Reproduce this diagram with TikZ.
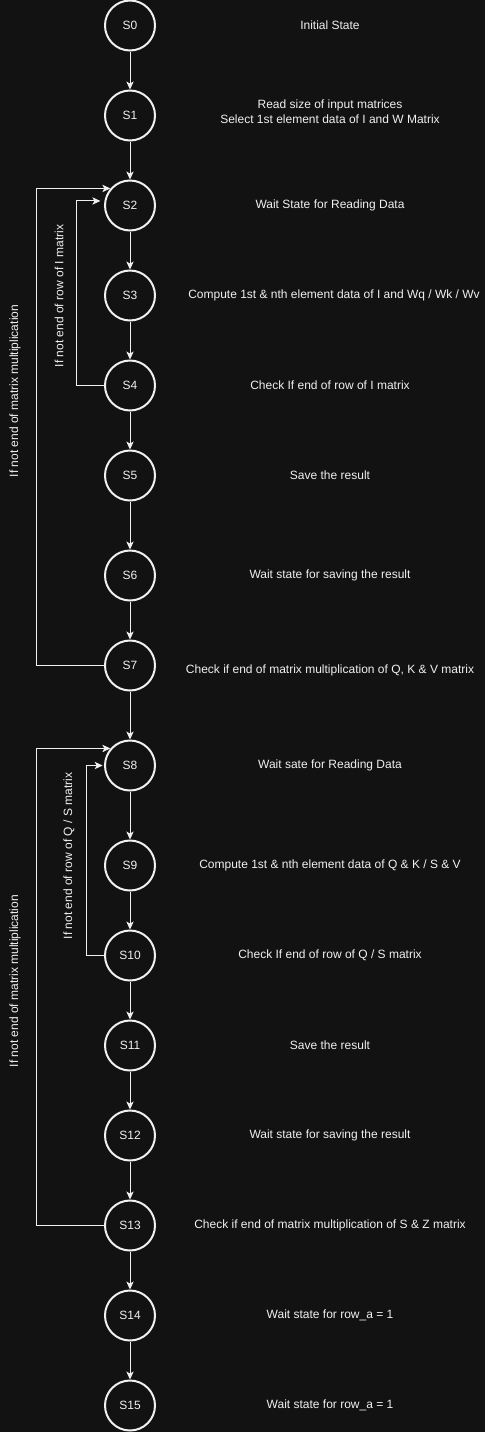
\documentclass[tikz,border=0pt]{standalone}
\usepackage{fontspec}
\setmainfont{Liberation Sans}
\usetikzlibrary{arrows.meta}
\definecolor{bgdark}{RGB}{18,18,18}
\definecolor{fgwhite}{RGB}{240,240,240}
\begin{document}
\begin{tikzpicture}[x={(0.75pt,0)},y={(0,-0.75pt)},
  state/.style={shape=circle,draw=fgwhite,line width=1.5pt,fill=bgdark,minimum size=37.5pt,inner sep=0pt,text=fgwhite,font=\fontsize{9}{11}\selectfont},
  desc/.style={text=fgwhite,align=center,font=\fontsize{9}{11}\selectfont},
  side/.style={text=fgwhite,rotate=90,font=\fontsize{9}{11}\selectfont},
  flow/.style={draw=fgwhite,line width=0.75pt,-{Stealth[length=6pt,width=5.5pt,inset=1.5pt]}}]
 \useasboundingbox[fill=bgdark] (0,0) rectangle (485,1432);
 \node (st 0) at (130,25.5) [state] {S0};
 \node (st 1) at (130,115.5) [state] {S1};
 \node (st 2) at (130,205.5) [state] {S2};
 \node (st 3) at (130,295.5) [state] {S3};
 \node (st 4) at (130,385.5) [state] {S4};
 \node (st 5) at (130,475.5) [state] {S5};
 \node (st 6) at (130,575.5) [state] {S6};
 \node (st 7) at (130,665.5) [state] {S7};
 \node (st 8) at (130,765.5) [state] {S8};
 \node (st 9) at (130,865.5) [state] {S9};
 \node (st 10) at (130,955.5) [state] {S10};
 \node (st 11) at (130,1045.5) [state] {S11};
 \node (st 12) at (130,1135.5) [state] {S12};
 \node (st 13) at (130,1225.5) [state] {S13};
 \node (st 14) at (130,1315.5) [state] {S14};
 \node (st 15) at (130,1405.5) [state] {S15};
 % state descriptions
 \node (txt 0) at (330,25.5) [desc] {Initial State};
 \node (txt 1) at (330,111.5) [desc] {Read size of input matrices\\Select 1st element data of I and W Matrix};
 \node (txt 2) at (330,205.5) [desc] {Wait State for Reading Data};
 \node (txt 3) at (334,295.5) [desc] {Compute 1st \& nth element data of I and Wq / Wk / Wv};
 \node (txt 4) at (330,385.5) [desc] {Check If end of row of I matrix};
 \node (txt 5) at (330,475.5) [desc] {Save the result};
 \node (txt 6) at (330,575.5) [desc] {Wait state for saving the result};
 \node (txt 7) at (330,670) [desc] {Check if end of matrix multiplication of Q, K \& V matrix};
 \node (txt 8) at (330,765.5) [desc] {Wait sate for Reading Data};
 \node (txt 9) at (330,865.5) [desc] {Compute 1st \& nth element data of Q \& K / S \& V};
 \node (txt 10) at (330,955.5) [desc] {Check If end of row of Q / S matrix};
 \node (txt 11) at (330,1045.5) [desc] {Save the result};
 \node (txt 12) at (330,1135.5) [desc] {Wait state for saving the result};
 \node (txt 13) at (330,1225.5) [desc] {Check if end of matrix multiplication of S \& Z matrix};
 \node (txt 14) at (330,1315.5) [desc] {Wait state for row\_a = 1};
 \node (txt 15) at (330,1405.5) [desc] {Wait state for row\_a = 1};
 % loop labels
 \node (lbl outer 1) at (15,391) [side] {If not end of matrix multiplication};
 \node (lbl inner 1) at (59,296) [side] {If not end of row of I matrix};
 \node (lbl outer 2) at (15,981) [side] {If not end of matrix multiplication};
 \node (lbl inner 2) at (69,856) [side] {If not end of row of Q / S matrix};
 % loop corners
 \coordinate (crn outer 1) at (36,665.5);
 \coordinate (crn inner 1) at (76,385.5);
 \coordinate (crn outer 2) at (36,1225.5);
 \coordinate (crn inner 2) at (86,955.5);
 \draw[flow] (st 0) -- (st 1);
 \draw[flow] (st 1) -- (st 2);
 \draw[flow] (st 2) -- (st 3);
 \draw[flow] (st 3) -- (st 4);
 \draw[flow] (st 4) -- (st 5);
 \draw[flow] (st 5) -- (st 6);
 \draw[flow] (st 6) -- (st 7);
 \draw[flow] (st 7) -- (st 8);
 \draw[flow] (st 8) -- (st 9);
 \draw[flow] (st 9) -- (st 10);
 \draw[flow] (st 10) -- (st 11);
 \draw[flow] (st 11) -- (st 12);
 \draw[flow] (st 12) -- (st 13);
 \draw[flow] (st 13) -- (st 14);
 \draw[flow] (st 14) -- (st 15);
 \draw[flow] (st 7) -- (crn outer 1) |- (st 2.139);
 \draw[flow,shorten >=3pt] (st 4) -- (crn inner 1) |- (st 2.170);
 \draw[flow] (st 13) -- (crn outer 2) |- (st 8.139);
 \draw[flow,shorten >=1pt] (st 10) -- (crn inner 2) |- (st 8.west);
\end{tikzpicture}
\end{document}
